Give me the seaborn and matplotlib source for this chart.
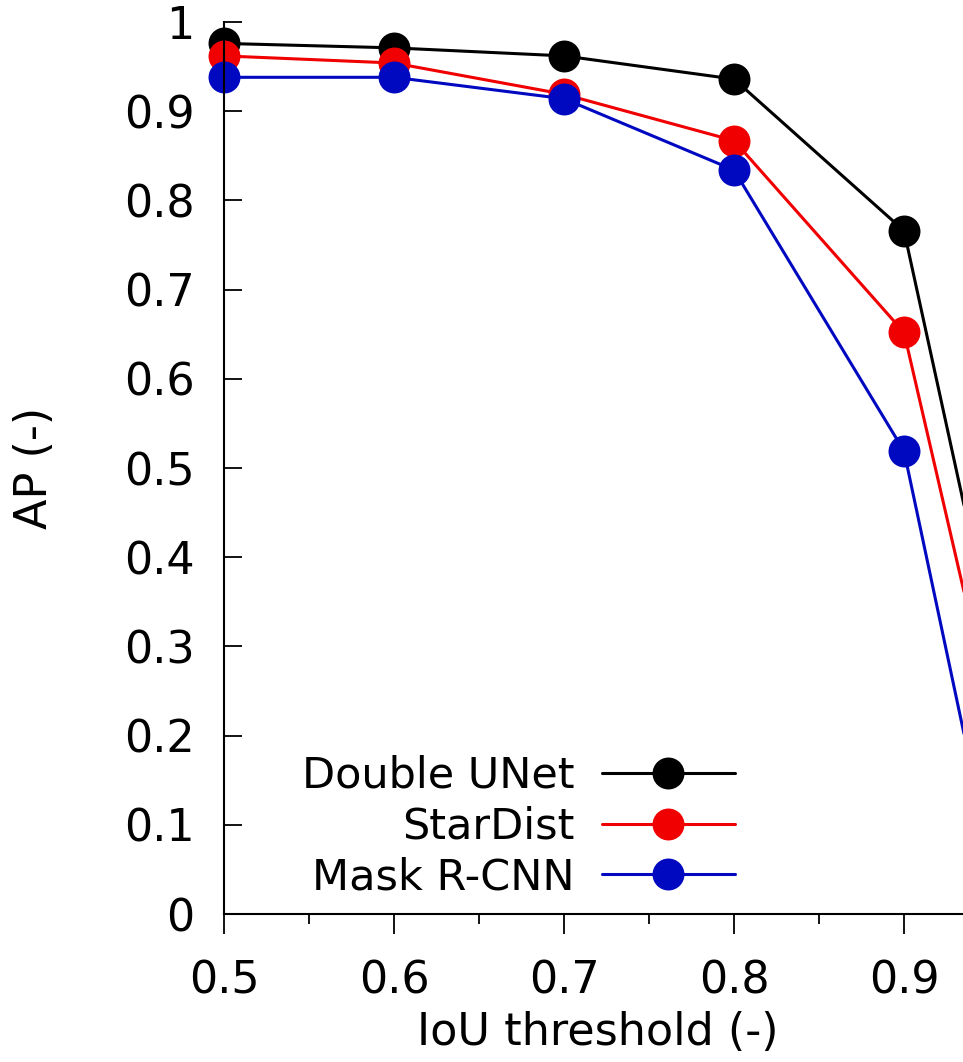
import matplotlib
matplotlib.use("Agg")
import matplotlib.pyplot as plt
import pandas as pd
import seaborn as sns

# IoU thresholds and average precision per method
iou = [0.5, 0.6, 0.7, 0.8, 0.9, 0.95]
double_unet = [0.976, 0.971, 0.962, 0.936, 0.766, 0.33]
stardist = [0.962, 0.954, 0.919, 0.867, 0.652, 0.24]
mask_rcnn = [0.938, 0.938, 0.914, 0.834, 0.519, 0.07]

methods = ["Double UNet", "StarDist", "Mask R-CNN"]
colors = ["#000000", "#f00000", "#0008c0"]

yticks = [0, 0.1, 0.2, 0.3, 0.4, 0.5, 0.6, 0.7, 0.8, 0.9, 1.0]
ytick_labels = ["0", "0.1", "0.2", "0.3", "0.4", "0.5", "0.6", "0.7", "0.8", "0.9", "1"]
xticks = [0.5, 0.6, 0.7, 0.8, 0.9]
xminor = [0.55, 0.65, 0.75, 0.85, 0.95]

df = pd.DataFrame({
    "iou": iou * 3,
    "ap": double_unet + stardist + mask_rcnn,
    "method": [m for m in methods for _ in iou],
})

sns.set_style("ticks")
plt.rcParams["font.family"] = ["DejaVu Sans"]
plt.rcParams.update({"text.color": "black", "axes.labelcolor": "black",
                     "xtick.color": "black", "ytick.color": "black",
                     "axes.edgecolor": "black"})

fig = plt.figure(figsize=(9.63, 10.62), dpi=100)
# axes run past the right edge of the picture, like the cropped original
ax = fig.add_axes([224 / 963, 148 / 1062, 765 / 963, 892 / 1062])

for m, c in zip(methods, colors):
    sub = df[df["method"] == m]
    sns.lineplot(data=sub, x="iou", y="ap", ax=ax, color=c, label=m,
                 marker="o", markersize=23, markeredgewidth=0,
                 linewidth=2.2, clip_on=False)

ax.set_xlim(0.5, 0.95)
ax.set_ylim(0, 1)

ax.set_yticks(yticks)
ax.set_yticklabels(ytick_labels)
ax.set_xticks(xticks)
ax.set_xticklabels([str(v) for v in xticks])
ax.set_xticks(xminor, minor=True)

ax.tick_params(axis="y", direction="in", length=13, width=1.3, pad=21, labelsize=32)
ax.tick_params(axis="x", which="major", direction="out", length=14.4, width=1.3, pad=18, labelsize=32)
ax.tick_params(axis="x", which="minor", direction="out", length=7.2, width=1.3)

for s in ["top", "right"]:
    ax.spines[s].set_visible(False)
for s in ["left", "bottom"]:
    ax.spines[s].set_linewidth(1.5)

ax.set_xlabel("IoU threshold (-)", fontsize=32)
ax.set_ylabel("AP (-)", fontsize=32)
ax.xaxis.set_label_coords(0.488, -0.109)
ax.yaxis.set_label_coords(-0.22, 0.5)

handles, labels = ax.get_legend_handles_labels()
ax.legend(handles, labels, loc="upper right", bbox_to_anchor=(735 / 963, 307 / 1062),
          bbox_transform=fig.transFigure, frameon=False, markerfirst=False,
          fontsize=31, handlelength=3.1, handletextpad=0.62, labelspacing=0.2,
          borderpad=0, borderaxespad=0)

fig.savefig("out.png", dpi=100)
